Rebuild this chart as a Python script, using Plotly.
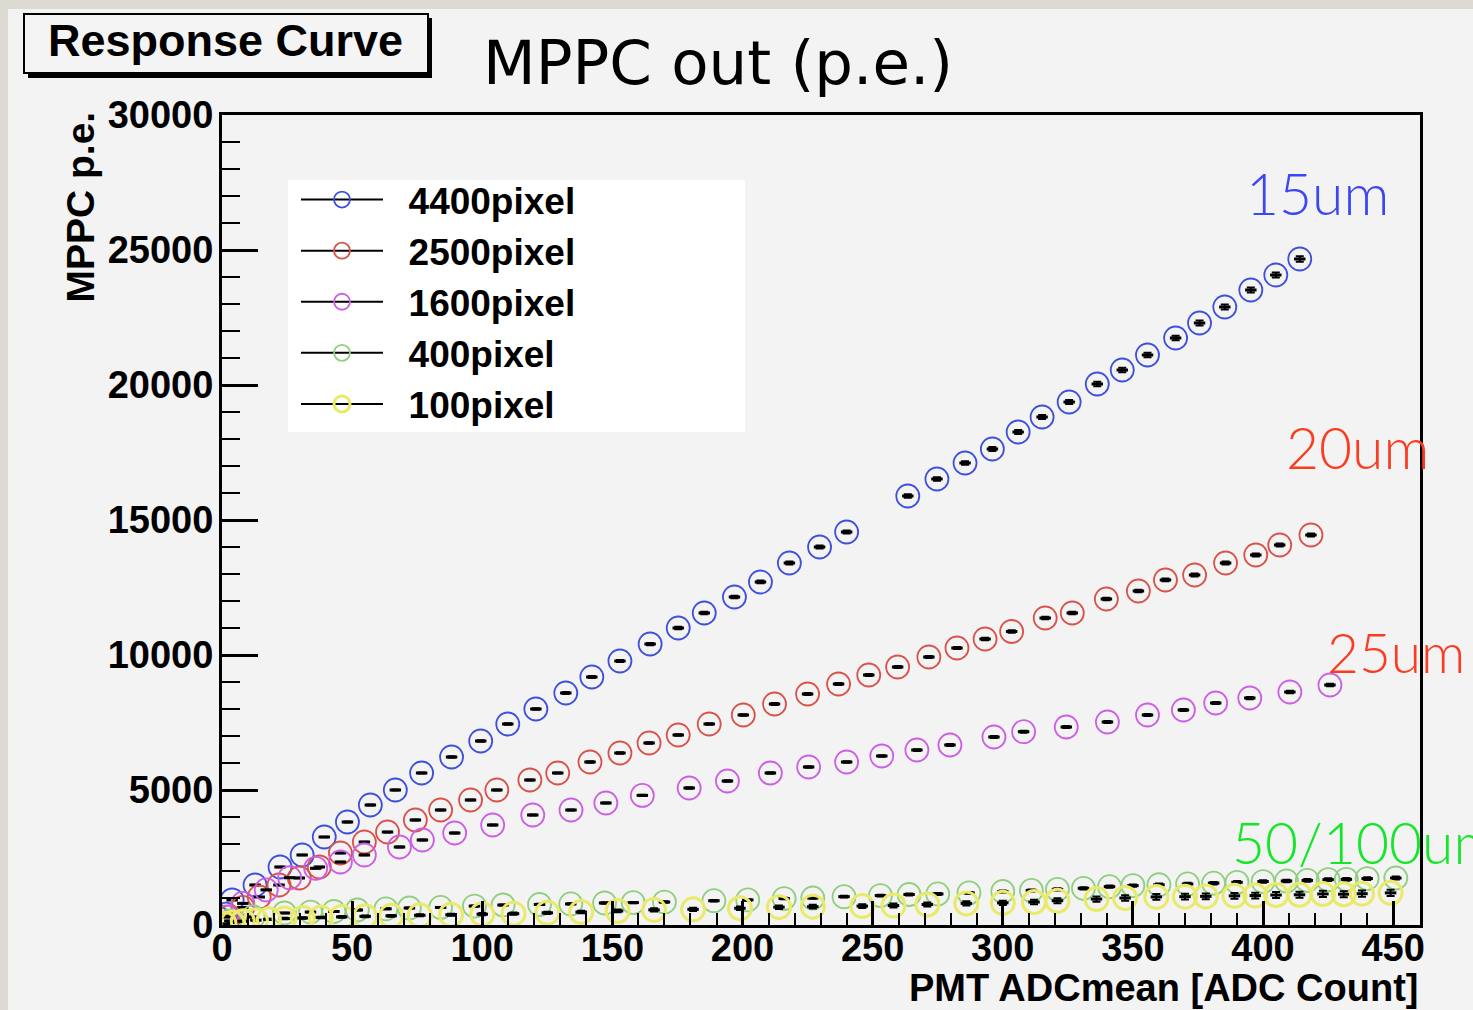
import plotly.graph_objects as go

# ---------------- data ----------------
series_names = ["4400pixel", "2500pixel", "1600pixel", "400pixel", "100pixel"]
series_colors = ["#3d4fdc", "#d8524a", "#cc5ee6", "#8fcf7f", "#eaea6a"]
series_lw = [1.8, 1.8, 1.8, 1.8, 3.0]

blue_x = [1.5, 3.9, 12.7, 22.3, 30.8, 39.3, 48.2, 57.0, 66.6, 76.7, 88.2, 99.4, 109.8,
          120.6, 132.1, 142.1, 152.9, 164.5, 175.3, 185.3, 196.9, 206.9, 218.0, 229.6,
          240.0, 263.5, 274.7, 285.5, 296.0, 305.9, 315.1, 325.5, 336.3, 345.9, 355.6,
          366.4, 375.6, 385.3, 395.3, 404.9, 414.1]
blue_y = [400, 926, 1481, 2148, 2593, 3259, 3815, 4444, 5000, 5630, 6222, 6815, 7444,
          8000, 8593, 9185, 9778, 10407, 11000, 11556, 12148, 12704, 13407, 14000,
          14556, 15889, 16519, 17111, 17630, 18259, 18815, 19370, 20037, 20556, 21111,
          21741, 22296, 22889, 23519, 24074, 24667]

red_x = [3, 8, 14.3, 21.9, 29.7, 37.4, 45.5, 54.7, 63.6, 74.3, 84.0, 95.5, 105.6, 118.3,
         129.0, 141.4, 152.9, 164.1, 175.3, 187.2, 200.3, 212.3, 225.0, 236.9, 248.5,
         259.6, 271.6, 282.4, 293.2, 303.4, 316.3, 326.7, 339.8, 352.1, 362.5, 373.7,
         385.6, 397.2, 406.4, 418.4]
red_y = [300, 650, 1037, 1481, 1741, 2148, 2667, 3074, 3444, 3889, 4259, 4630, 5000, 5370,
         5630, 6037, 6370, 6741, 7037, 7444, 7778, 8185, 8556, 8926, 9259,
         9556, 9926, 10259, 10593, 10870, 11370, 11556, 12074, 12370, 12778, 12963,
         13407, 13704, 14074, 14444]

mag_x = [2, 8, 17, 26, 36, 45.5, 54.7, 68.2, 77.0, 89.4, 104.0, 119.4, 134.1, 147.5,
         161.5, 179.5, 194.2, 210.7, 225.4, 240.0, 253.5, 267.0, 279.7, 296.6, 308.0,
         324.4, 340.2, 355.6, 369.4, 381.8, 394.9, 410.3, 425.7]
mag_y = [300, 800, 1300, 1750, 2100, 2333, 2593, 2889, 3148, 3407, 3704, 4074, 4259, 4519,
         4800, 5074, 5333, 5630, 5852, 6037, 6259, 6481, 6667, 6963, 7160,
         7333, 7519, 7778, 7963, 8222, 8407, 8630, 8889]

green_x = [3, 12, 24, 34, 43, 52, 63, 72, 84, 97, 108, 122, 134, 147, 158, 170, 189, 202,
           216, 227, 239, 253, 264, 275, 287, 300, 311, 321, 331, 341, 350, 360, 371, 381,
           390, 400, 409, 417, 425, 432, 440, 451]
green_y = [150, 300, 444, 480, 500, 555, 600, 630, 650, 700, 740, 760, 780, 815, 830, 850,
           900, 930, 980, 1000, 1050, 1090, 1130, 1150, 1190, 1240, 1280, 1320, 1360, 1420,
           1460, 1490, 1520, 1550, 1580, 1610, 1630, 1650, 1680, 1690, 1720, 1740]

yellow_x = [1, 4, 8, 13, 18, 24, 31, 38, 46, 55, 65, 76, 88, 100, 112, 125, 138, 152, 166,
            181, 199, 214, 227, 246, 258, 271, 286, 300, 312, 321, 336, 347, 359, 370, 378,
            389, 397, 405, 414, 423, 431, 438, 449]
yellow_y = [40, 90, 140, 180, 210, 240, 260, 280, 300, 320, 340, 360, 380, 400, 420, 450,
            480, 520, 560, 580, 620, 660, 680, 700, 720, 760, 800, 820, 850, 900, 960, 1000,
            1040, 1050, 1060, 1080, 1090, 1110, 1120, 1150, 1140, 1160, 1190]

xs = [blue_x, red_x, mag_x, green_x, yellow_x]
ys = [blue_y, red_y, mag_y, green_y, yellow_y]
yerr_pct = [0.4, 0.4, 0.5, 3.0, 10.0]

x_ticks = [0, 50, 100, 150, 200, 250, 300, 350, 400, 450]
y_ticks = [0, 5000, 10000, 15000, 20000, 25000, 30000]

# ---------------- geometry ----------------
W, H = 1473, 1010
L, R, T, B = 222, 53, 115, 85
PW, PH = W - L - R, H - T - B


def px(v):
    return (v - L) / PW


def py(v):
    return (H - B - v) / PH


BOLD = "Liberation Sans, Arial, Helvetica, sans-serif"

fig = go.Figure()

for name, col, lw, x, y, ep in zip(series_names, series_colors, series_lw, xs, ys, yerr_pct):
    fig.add_trace(go.Scatter(
        x=x, y=y, mode="markers", name=name, showlegend=False,
        marker=dict(symbol="circle-open", size=23, color=col, line=dict(width=lw, color=col)),
        error_x=dict(type="constant", value=2.2, thickness=3, width=0, color="black"),
        error_y=dict(type="percent", value=ep, thickness=2, width=4, color="black"),
    ))

for name, col, lw in zip(series_names, series_colors, series_lw):
    fig.add_trace(go.Scatter(
        x=[None], y=[None], mode="lines+markers", name="\u00a0\u00a0" + name,
        line=dict(color="black", width=2),
        marker=dict(symbol="circle-open", size=23, color=col, line=dict(width=lw, color=col)),
    ))

shapes = [
    # panel
    dict(type="rect", xref="paper", yref="paper", x0=px(8), x1=px(W + 5), y0=py(H + 5), y1=py(9),
         fillcolor="#f3f3f3", line=dict(width=0), layer="below"),
    # title box shadow + box
    dict(type="rect", xref="paper", yref="paper", x0=px(28), x1=px(432), y0=py(78), y1=py(18),
         fillcolor="black", line=dict(width=0), layer="above"),
    dict(type="rect", xref="paper", yref="paper", x0=px(24), x1=px(428), y0=py(73), y1=py(14),
         fillcolor="#f4f4f4", line=dict(width=2, color="black"), layer="above"),
    # legend background
    dict(type="rect", xref="paper", yref="paper", x0=px(288), x1=px(745), y0=py(432), y1=py(180),
         fillcolor="white", line=dict(width=0), layer="above"),
]

annotations = [
    dict(text="<b>Response Curve</b>", x=px(225), y=py(41), xref="paper", yref="paper",
         xanchor="center", yanchor="middle", showarrow=False,
         font=dict(family=BOLD, size=45, color="black")),
    dict(text="MPPC out (p.e.)", x=px(481), y=py(62), xref="paper", yref="paper",
         xanchor="left", yanchor="middle", showarrow=False,
         font=dict(family="DejaVu Sans", size=61, color="black")),
    dict(text="<b>MPPC p.e.</b>", x=px(80), y=py(110), xref="paper", yref="paper",
         xanchor="center", yanchor="top", textangle=-90, showarrow=False,
         font=dict(family=BOLD, size=39, color="black")),
    dict(text="<b>PMT ADCmean [ADC Count]</b>", x=px(1420), y=py(988), xref="paper", yref="paper",
         xanchor="right", yanchor="middle", showarrow=False,
         font=dict(family=BOLD, size=38, color="black")),
    dict(text="15um", x=px(1317), y=py(193), xref="paper", yref="paper",
         xanchor="center", yanchor="middle", showarrow=False,
         font=dict(family="Lato", size=57, color="#3c46f5", weight=300)),
    dict(text="20um", x=px(1357), y=py(447), xref="paper", yref="paper",
         xanchor="center", yanchor="middle", showarrow=False,
         font=dict(family="Lato", size=57, color="#fa3c23", weight=300)),
    dict(text="25um", x=px(1325), y=py(652), xref="paper", yref="paper",
         xanchor="left", yanchor="middle", showarrow=False,
         font=dict(family="Lato", size=55, color="#fa3c23", weight=300)),
    dict(text="50/100um", x=px(1230), y=py(842), xref="paper", yref="paper",
         xanchor="left", yanchor="middle", showarrow=False,
         font=dict(family="Lato", size=57, color="#14e628", weight=300)),
]

tickfont = dict(family=BOLD, size=38, color="black", weight="bold")

fig.update_layout(
    width=W, height=H,
    margin=dict(l=L, r=R, t=T, b=B, autoexpand=False),
    paper_bgcolor="#dddad4",
    plot_bgcolor="#f3f3f3",
    shapes=shapes,
    annotations=annotations,
    legend=dict(x=px(296), y=py(169), xanchor="left", yanchor="top",
                bgcolor="rgba(0,0,0,0)", borderwidth=0, itemwidth=82,
                font=dict(family=BOLD, size=37, color="black", weight="bold"),
                tracegroupgap=0),
    xaxis=dict(range=[0, 460.3], tickvals=x_ticks, ticktext=[str(v) for v in x_ticks],
               ticks="inside", ticklen=24, tickwidth=2.5, tickcolor="black",
               minor=dict(dtick=10, tick0=0, ticks="inside", ticklen=12, tickwidth=2, tickcolor="black"),
               showline=True, linecolor="black", linewidth=3, mirror=True,
               showgrid=False, zeroline=False, tickfont=tickfont, ticklabelstandoff=-13),
    yaxis=dict(range=[0, 30000], tickvals=y_ticks, ticktext=[str(v) for v in y_ticks],
               ticks="inside", ticklen=36, tickwidth=2.5, tickcolor="black",
               minor=dict(dtick=1000, tick0=0, ticks="inside", ticklen=18, tickwidth=2, tickcolor="black"),
               showline=True, linecolor="black", linewidth=3, mirror=True,
               showgrid=False, zeroline=False, tickfont=tickfont, ticklabelstandoff=-2),
)

fig.write_html("out.html", config={"displayModeBar": False},
               post_script="document.body.style.margin='0';")
